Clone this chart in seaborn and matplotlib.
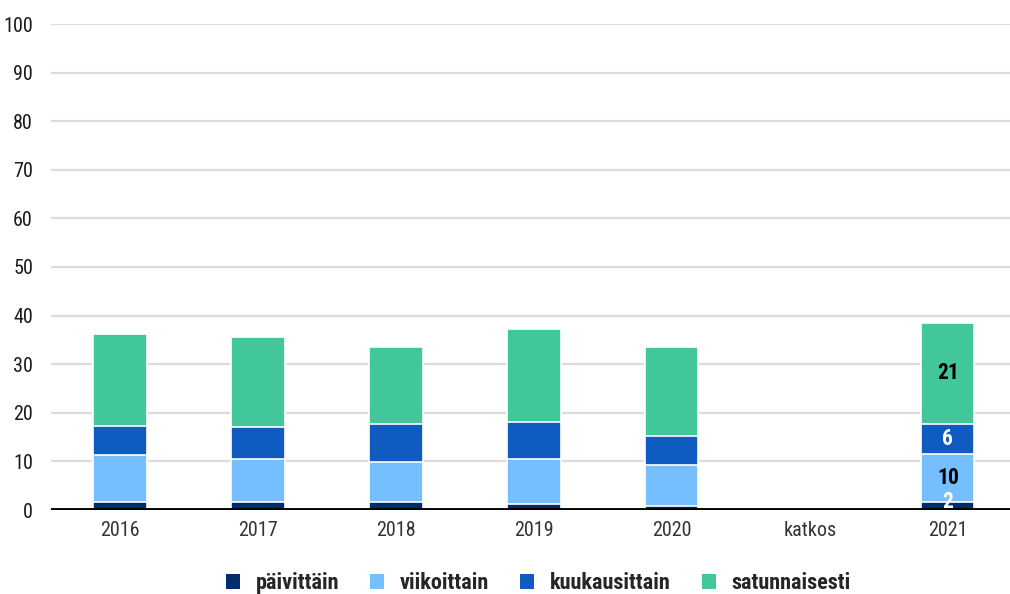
import numpy as np
import pandas as pd
import seaborn as sns
import matplotlib.pyplot as plt
from matplotlib.patches import Patch

years = ["2016", "2017", "2018", "2019", "2020", "katkos", "2021"]
paivittain = [1.7, 1.7, 1.6, 1.2, 0.9, 0, 1.7]
viikoittain = [9.6, 8.7, 8.2, 9.2, 8.4, 0, 9.9]
kuukausittain = [6.0, 6.7, 7.8, 7.7, 5.9, 0, 6.1]
satunnaisesti = [18.9, 18.4, 15.9, 19.1, 18.3, 0, 20.8]
series = ["päivittäin", "viikoittain", "kuukausittain", "satunnaisesti"]
colors = ["#002d6e", "#75bfff", "#105bbf", "#42c79a"]
labels_2021 = ["2", "10", "6", "21"]
label_colors = ["white", "black", "white", "black"]

sns.set_style("white")
plt.rcParams['font.family'] = ['Liberation Sans Narrow', 'Roboto Condensed',
                               'Open Sans Condensed', 'Lato', 'DejaVu Sans']

df = pd.DataFrame({"vuosi": years, series[0]: paivittain, series[1]: viikoittain,
                   series[2]: kuukausittain, series[3]: satunnaisesti})
cum = df[series].cumsum(axis=1)

fig = plt.figure(figsize=(10.1, 5.94), dpi=100)
ax = fig.add_axes([51/1010, 84/594, 959/1010, 486/594])

# stacked: draw cumulative totals from the top layer down
for i in range(len(series) - 1, -1, -1):
    sns.barplot(x=df["vuosi"], y=cum[series[i]], order=years, color=colors[i],
                width=0.385, edgecolor="white", linewidth=1.2, ax=ax,
                saturation=1, zorder=3)

# value labels for 2021
j = years.index("2021")
bottom = 0
for i, s in enumerate(series):
    v = df[s].iloc[j]
    yy = bottom + v / 2
    if i == 0:
        yy = bottom + v / 2 + 0.8   # small segment, label sits over its top
    ax.text(j, yy, labels_2021[i], ha="center", va="center", fontsize=15.5,
            fontweight="bold", color=label_colors[i], zorder=5)
    bottom += v

ax.set_ylim(0, 100)
ax.set_xlim(-0.5, 6.45)
ax.set_yticks(np.arange(0, 101, 10))
ax.yaxis.grid(True, color="#dcdcdc", linewidth=1.6, zorder=0)
ax.set_axisbelow(True)
ax.axhline(0, color="black", linewidth=3.5, zorder=6)
for sp in ax.spines.values():
    sp.set_visible(False)
ax.set_xlabel("")
ax.set_ylabel("")
ax.tick_params(axis="both", length=0, labelsize=14.5, colors="#333333")
ax.tick_params(axis="y", pad=13, labelcolor="#1a1a1a")
ax.tick_params(axis="x", pad=8)

handles = [Patch(facecolor=c, edgecolor="none") for c in colors]
fig.legend(handles, series, loc="center", bbox_to_anchor=(0.533, 0.018), ncol=4,
           frameon=False, handlelength=0.63, handleheight=0.63, handletextpad=0.7,
           columnspacing=1.4, prop={"size": 16, "weight": "bold"})

fig.savefig("out.png", dpi=100)
